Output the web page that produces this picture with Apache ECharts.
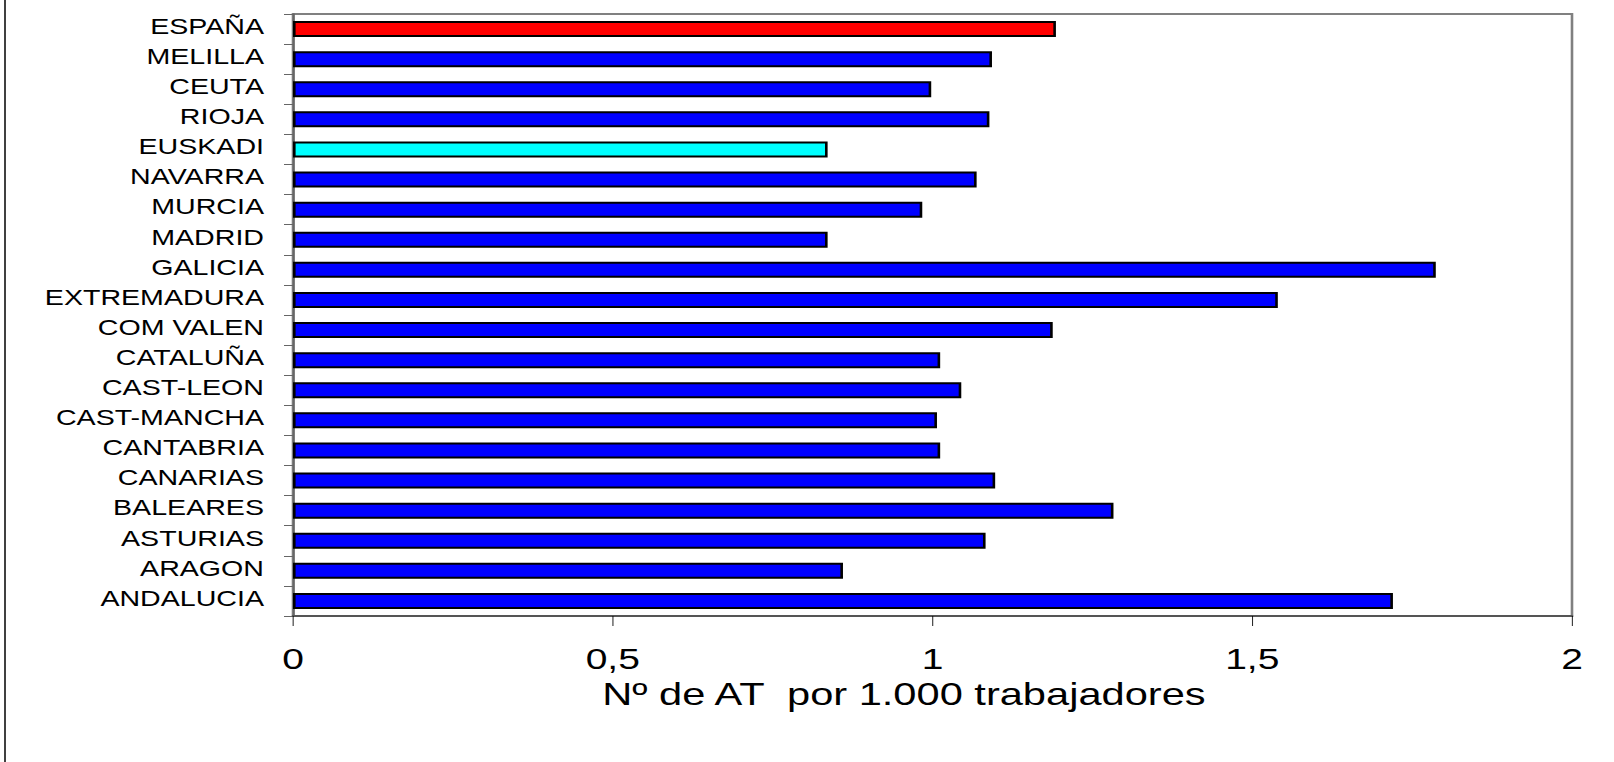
<!DOCTYPE html>
<html>
<head>
<meta charset="utf-8">
<script src="https://cdn.jsdelivr.net/npm/echarts@6/dist/echarts.min.js"></script>
<style>
  html, body { margin: 0; padding: 0; background: #ffffff; overflow: hidden; }
  #chart { height: 762px; transform-origin: 0 0; }
</style>
</head>
<body>
<div id="chart"></div>
<script>
// Categories, top to bottom as shown
const regions = ['ESPAÑA', 'MELILLA', 'CEUTA', 'RIOJA', 'EUSKADI', 'NAVARRA', 'MURCIA', 'MADRID',
  'GALICIA', 'EXTREMADURA', 'COM VALEN', 'CATALUÑA', 'CAST-LEON', 'CAST-MANCHA', 'CANTABRIA',
  'CANARIAS', 'BALEARES', 'ASTURIAS', 'ARAGON', 'ANDALUCIA'];
// Nº de AT por 1.000 trabajadores
const rates = [1.193, 1.093, 0.998, 1.089, 0.836, 1.069, 0.984, 0.836,
  1.787, 1.540, 1.188, 1.012, 1.045, 1.007, 1.012,
  1.098, 1.283, 1.083, 0.860, 1.720];
const xTicks = [0, 0.5, 1, 1.5, 2];
const axisTitle = 'Nº de AT  por 1.000 trabajadores';

const specialColors = { 'ESPAÑA': '#FF0000', 'EUSKADI': '#00FFFF' };
const font = 'Arial, "Liberation Sans", sans-serif';

// The original chart is horizontally stretched; reproduce by scaling the whole chart in X.
const SX = 1.3;
const W = 1614 / SX;
const el = document.getElementById('chart');
el.style.width = W + 'px';
el.style.transform = 'scaleX(' + SX + ')';

const chart = echarts.init(el, null, { renderer: 'svg', width: W, height: 762 });
chart.setOption({
  animation: false,
  backgroundColor: '#ffffff',
  grid: {
    left: 293 / SX, right: 42 / SX, top: 14, bottom: 146,
    show: true, borderColor: '#808080', borderWidth: 2, backgroundColor: '#ffffff'
  },
  xAxis: {
    type: 'value',
    min: xTicks[0],
    max: xTicks[xTicks.length - 1],
    interval: xTicks[1] - xTicks[0],
    axisLine: { show: true, lineStyle: { color: '#555555', width: 2 } },
    axisTick: { show: true, length: 10, lineStyle: { color: '#000000', width: 1 / SX } },
    splitLine: { show: false },
    axisLabel: {
      color: '#000000', fontFamily: font, fontSize: 30, lineHeight: 24, margin: 31,
      formatter: v => String(v).replace('.', ',')
    },
    name: axisTitle,
    nameLocation: 'middle',
    nameMoveOverlap: false,
    nameGap: 65,
    nameTextStyle: { color: '#000000', fontFamily: font, fontSize: 32, lineHeight: 26, padding: [0, 44, 0, 0] }
  },
  yAxis: {
    type: 'category',
    data: regions,
    inverse: true,
    axisLine: { show: true, lineStyle: { color: '#666666', width: 2 / SX } },
    axisTick: { show: true, length: 9 / SX, lineStyle: { color: '#666666', width: 1 } },
    axisLabel: {
      color: '#000000', fontFamily: font, fontSize: 22, margin: 29 / SX,
      verticalAlign: 'bottom', lineHeight: 6
    },
    splitLine: { show: false }
  },
  series: [{
    type: 'bar',
    data: rates.map((v, i) => ({
      value: v,
      itemStyle: { color: specialColors[regions[i]] || '#0000FF' }
    })),
    barWidth: 16,
    itemStyle: { borderColor: '#000000', borderWidth: 2 }
  }],
  graphic: [{
    type: 'line',
    shape: { x1: 5 / SX, y1: 0, x2: 5 / SX, y2: 762 },
    style: { stroke: '#000000', lineWidth: 1.5 / SX }
  }]
});
</script>
</body>
</html>
